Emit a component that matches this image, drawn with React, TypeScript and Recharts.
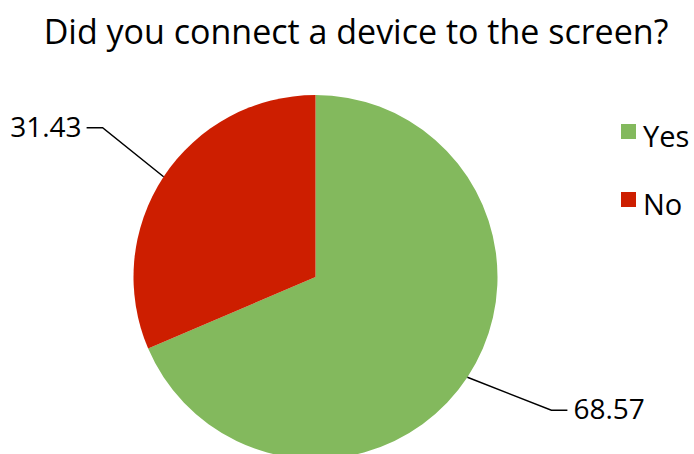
import React from "react";
import { PieChart, Pie, Cell, Legend } from "recharts";

const categories = ["Yes", "No"];
const values = [68.57, 31.43];
const colors = ["#83B95D", "#CD1E00"];
const title = "Did you connect a device to the screen?";

const data = categories.map((name, i) => ({ name, value: values[i] }));

const FONT = "'Open Sans', 'Noto Sans', sans-serif";

// leader line shape per slice: offset from the slice edge to the elbow, then horizontal run
const leaders = [
  { dx: 84, dy: 33, h: 16 },
  { dx: -61, dy: -49, h: -16 },
];

const renderLabel = (props: any) => {
  const { cx, cy, midAngle, outerRadius, index, value } = props;
  const RAD = Math.PI / 180;
  const sx = cx + outerRadius * Math.cos(-midAngle * RAD);
  const sy = cy + outerRadius * Math.sin(-midAngle * RAD);
  const l = leaders[index];
  const mx = sx + l.dx;
  const my = sy + l.dy;
  const ex = mx + l.h;
  const right = l.h > 0;
  return (
    <g key={`lbl-${index}`}>
      <polyline
        points={`${sx},${sy} ${mx},${my} ${ex},${my}`}
        fill="none"
        stroke="#000"
        strokeWidth={1.5}
      />
      <text
        x={right ? ex + 6 : ex - 5}
        y={my - 2}
        textAnchor={right ? "start" : "end"}
        dominantBaseline="central"
        fontFamily={FONT}
        fontSize={28}
        fill="#000"
      >
        {value.toFixed(2)}
      </text>
    </g>
  );
};

const LegendContent = () => (
  <div style={{ fontFamily: FONT }}>
    {data.map((d, i) => (
      <div
        key={d.name}
        style={{ display: "flex", alignItems: "center", height: 68 }}
      >
        <div style={{ width: 15, height: 15, background: colors[i], marginRight: 7 }} />
        <span style={{ fontSize: 29, color: "#000", position: "relative", top: 4 }}>{d.name}</span>
      </div>
    ))}
  </div>
);

export default function App() {
  return (
    <div style={{ position: "absolute", left: 0, top: 0, width: 694, height: 454, background: "#fff", overflow: "hidden" }}>
      <div
        style={{
          position: "absolute",
          left: 0,
          top: 11,
          width: 712,
          textAlign: "center",
          fontFamily: FONT,
          fontSize: 34,
          color: "#000",
          lineHeight: "40px",
          whiteSpace: "nowrap",
        }}
      >
        {title}
      </div>
      <PieChart width={694} height={454} margin={{ top: 0, right: 0, bottom: 0, left: 0 }}>
        <Pie
          data={data}
          dataKey="value"
          nameKey="name"
          cx={315.5}
          cy={277}
          outerRadius={182}
          startAngle={90}
          endAngle={-270}
          stroke="none"
          label={renderLabel}
          labelLine={false}
          isAnimationActive={false}
        >
          {data.map((d, i) => (
            <Cell key={d.name} fill={colors[i]} />
          ))}
        </Pie>
        <Legend
          content={<LegendContent />}
          wrapperStyle={{ position: "absolute", left: 621, top: 97, width: 80 }}
        />
      </PieChart>
    </div>
  );
}
